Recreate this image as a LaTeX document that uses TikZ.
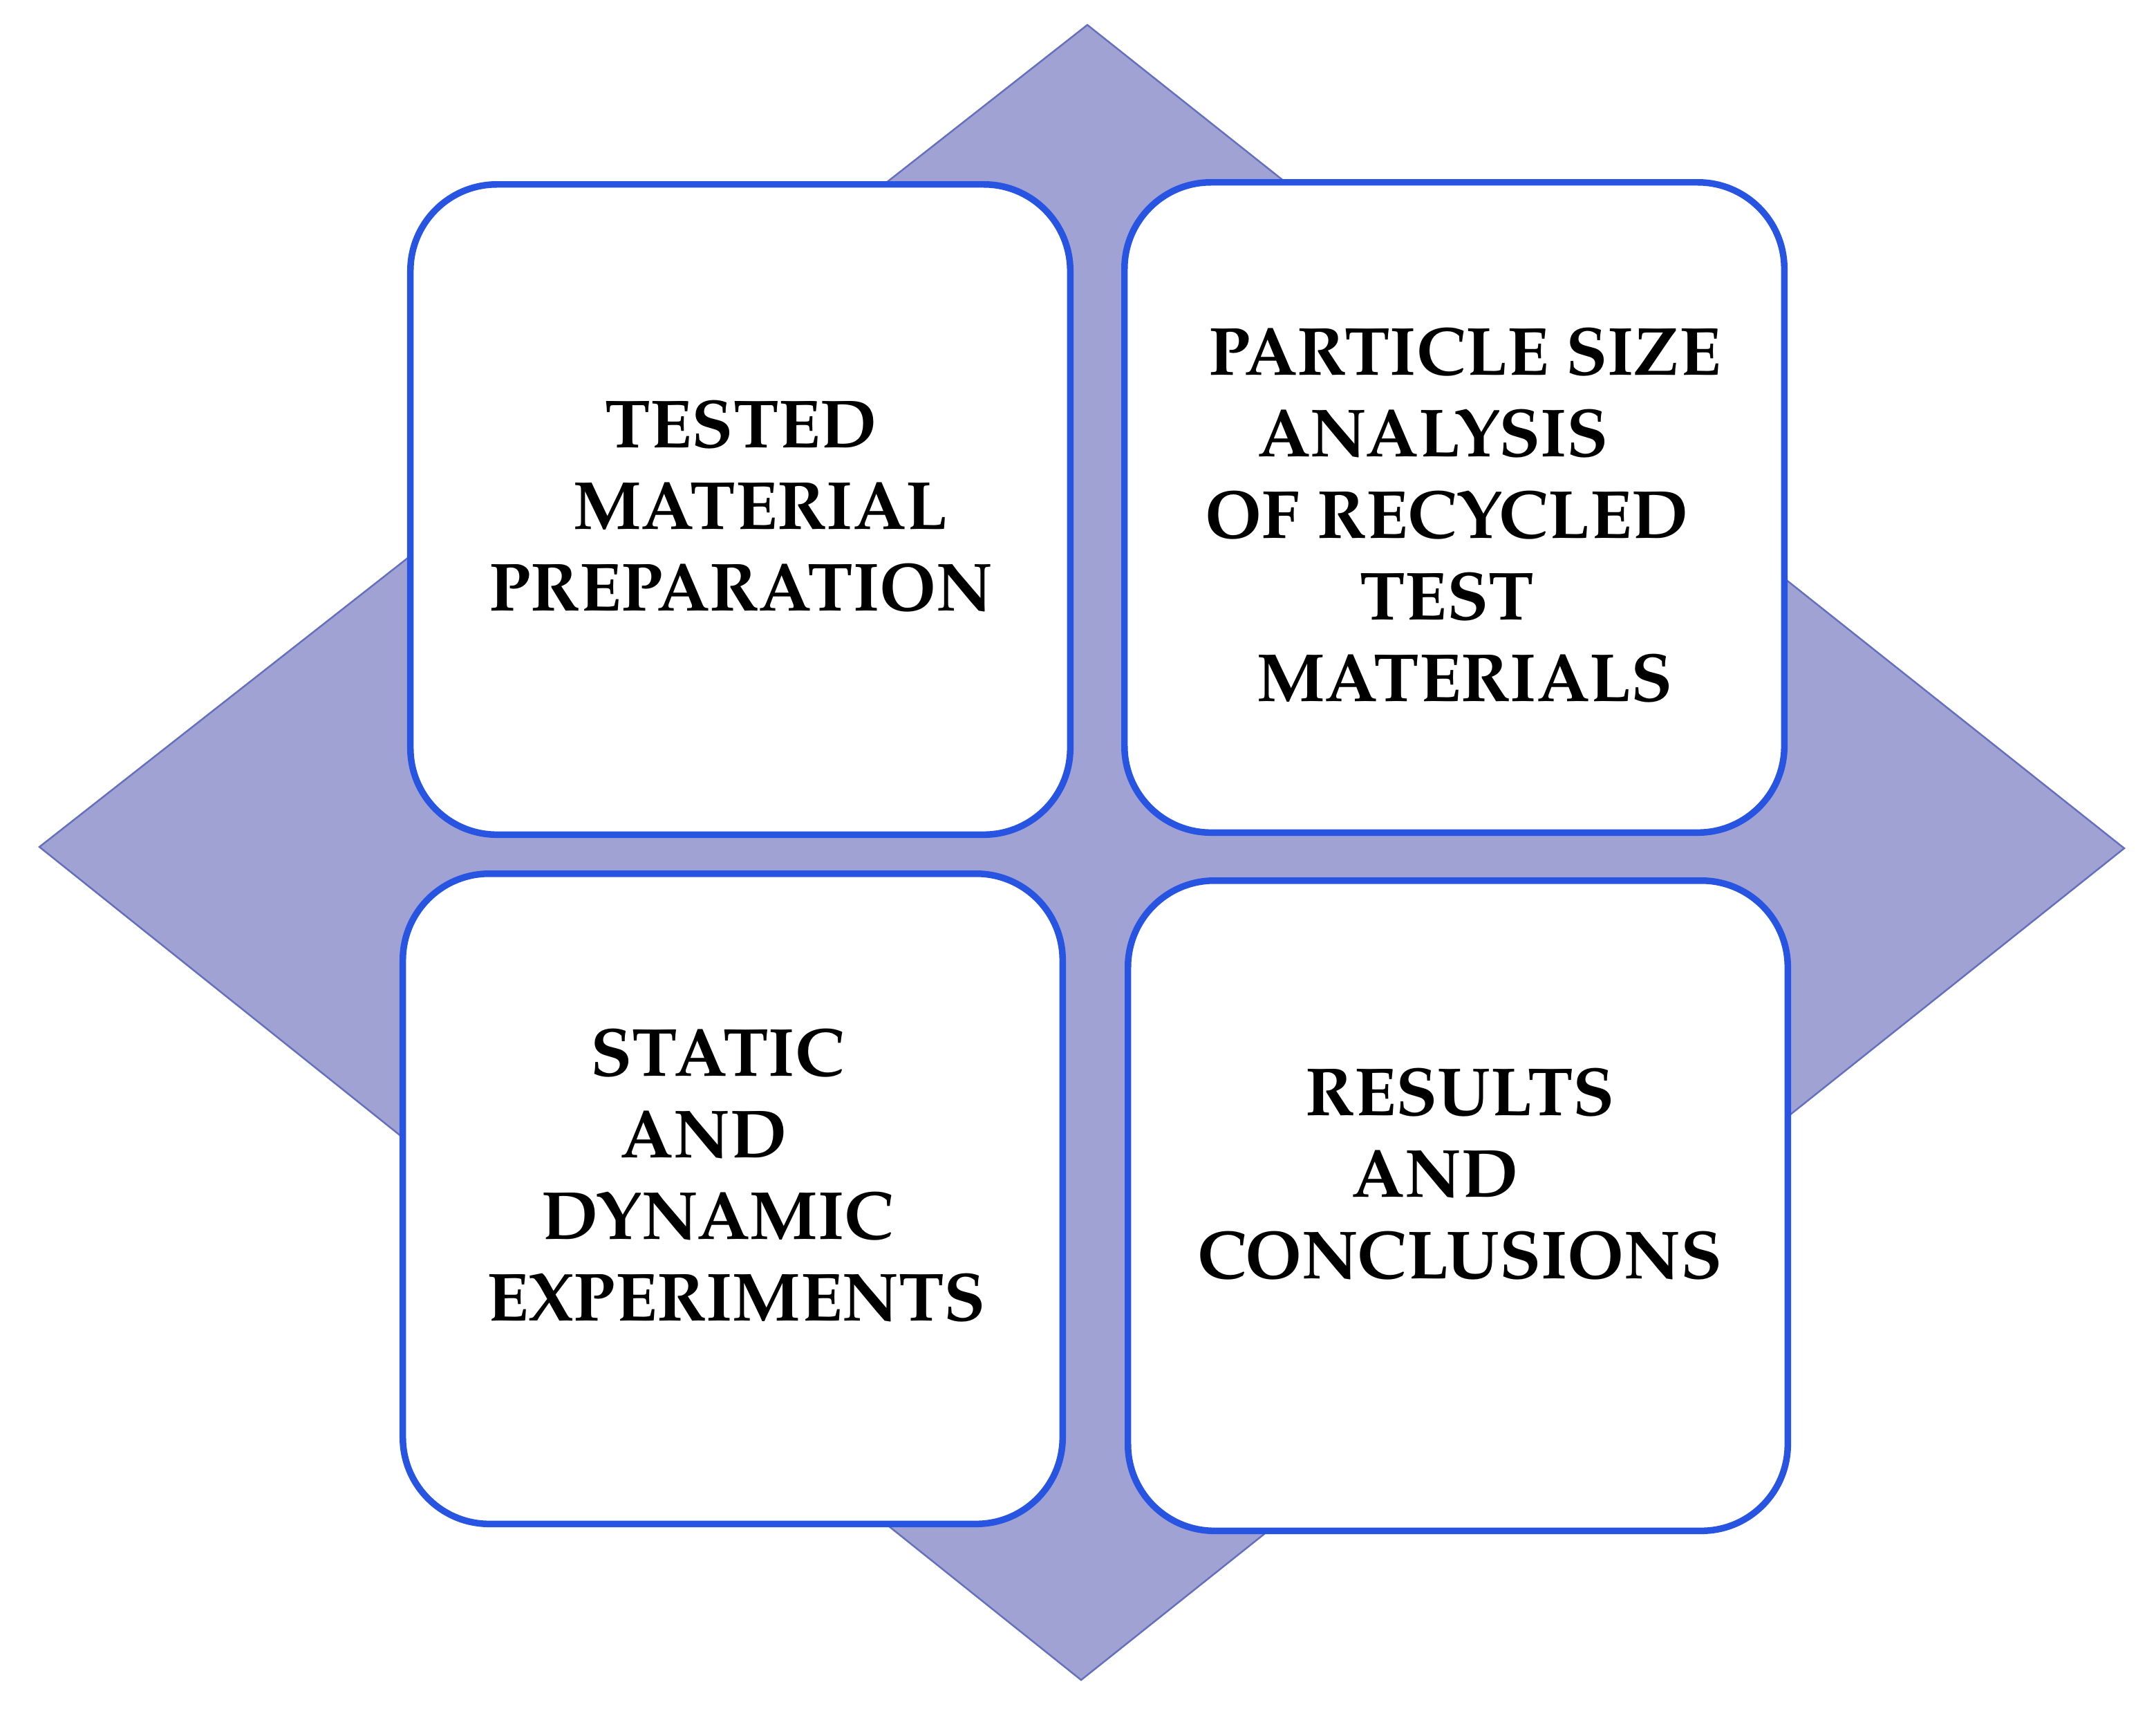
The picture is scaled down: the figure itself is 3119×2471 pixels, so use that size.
\documentclass[tikz,border=0pt]{standalone}
\usepackage{fontspec}
\setmainfont{texgyrepagella}[Extension=.otf, UprightFont=*-regular, BoldFont=*-bold]
\definecolor{diafill}{RGB}{160,162,212}
\definecolor{diaedge}{RGB}{100,112,190}
\definecolor{cardblue}{RGB}{40,84,226}

\begin{document}
\begin{tikzpicture}[x=0.01cm, y=-0.01cm, main/.style = {draw=cardblue, line width=2.7pt, fill=white,
		rounded corners=1.25cm, inner sep=0pt, minimum width=9.54cm, minimum height=9.4cm},
		lbl/.style = {align=center, inner sep=0pt, font=\fontsize{28}{33.6}\selectfont\bfseries}]
		\useasboundingbox (0,0) rectangle (3119,2471);
		\draw[diaedge, fill=diafill, line width=0.7pt] (1573,36) -- (3073,1227) -- (1564,2430) -- (57,1225) -- cycle;
		\node[main] (prep) at (1071,737) {};
		\node[main] (size) at (2104,734) {};
		\node[main] (exp) at (1060,1734) {};
		\node[main] (concl) at (2109,1744) {};
		\node[lbl] (prep-t) at (1072,732) {TESTED\\\hspace*{0.56cm}MATERIAL\\PREPARATION};
		\node[lbl] (size-t) at (2093,745) {\hspace*{0.52cm}PARTICLE SIZE\\\mbox{ANALYSIS\hspace{0.4cm}}\\OF RECYCLED\\TEST\\\hspace*{0.52cm}MATERIALS};
		\node[lbl] (exp-t) at (1038,1700) {STATIC\\\mbox{AND\hspace{0.4cm}}\\DYNAMIC\\\hspace*{0.54cm}EXPERIMENTS};
		\node[lbl] (concl-t) at (2112,1698) {RESULTS\\\mbox{AND\hspace{0.72cm}}\\CONCLUSIONS};
	\end{tikzpicture}
\end{document}
